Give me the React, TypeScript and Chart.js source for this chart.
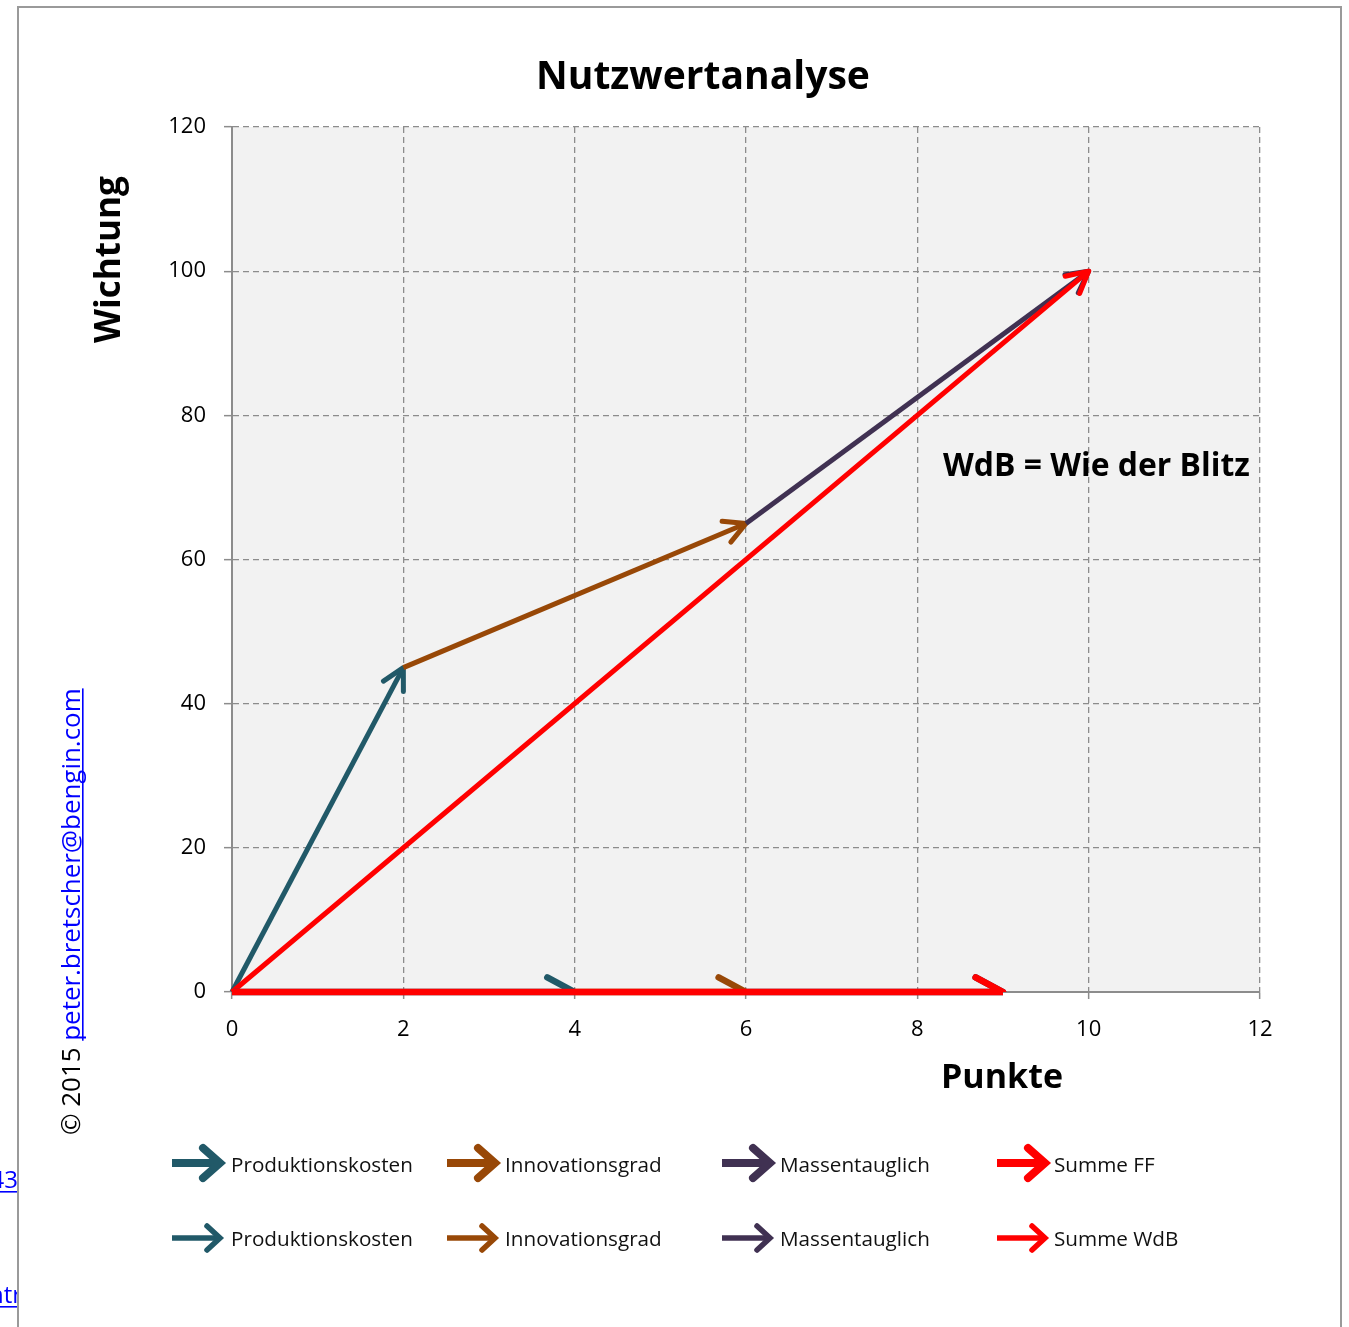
import React, { useEffect, useRef } from 'react';
import { Chart, registerables } from 'chart.js';

Chart.register(...registerables);

// ---------- data ----------
const TITLE = 'Nutzwertanalyse';
const X_TITLE = 'Punkte';
const Y_TITLE = 'Wichtung';
const NOTE = 'WdB = Wie der Blitz';
const COPYRIGHT_PREFIX = '© 2015 ';
const COPYRIGHT_LINK = 'peter.bretscher@bengin.com';

const X_MIN = 0;
const X_MAX = 12;
const X_STEP = 2;
const Y_MIN = 0;
const Y_MAX = 120;
const Y_STEP = 20;

const KRITERIEN = ['Produktionskosten', 'Innovationsgrad', 'Massentauglich'];
const SUMME_LABELS = ['Summe FF', 'Summe WdB'];

// cumulative points (Punkte) and weights (Wichtung) along each path
const FF_PUNKTE = [0, 2, 6, 10];
const FF_WICHTUNG = [0, 45, 65, 100];
const WDB_PUNKTE = [0, 4, 6, 9];
const WDB_WICHTUNG = [0, 0, 0, 0];

const COLORS = ['#215968', '#984807', '#403152', '#FF0000'];

// ---------- helpers ----------
const FONT = '"Open Sans", "DejaVu Sans", sans-serif';

function fitFont(ctx: CanvasRenderingContext2D, text: string, weight: string, width: number) {
  ctx.font = `${weight} 100px ${FONT}`;
  const w = ctx.measureText(text).width;
  const size = (100 * width) / w;
  ctx.font = `${weight} ${size}px ${FONT}`;
  return size;
}

function buildDatasets(px: number[], py: number[], sumLabel: string, lw: number, head: number, startIndex: number) {
  const out: any[] = [];
  for (let i = 0; i < KRITERIEN.length; i++) {
    out.push({
      label: KRITERIEN[i],
      data: [
        { x: px[i], y: py[i] },
        { x: px[i + 1], y: py[i + 1] },
      ],
      borderColor: COLORS[i],
      backgroundColor: COLORS[i],
      borderWidth: lw,
      headLen: head,
      showLine: true,
      pointRadius: 0,
      clip: 10,
      order: -(startIndex + i),
    });
  }
  const n = px.length - 1;
  out.push({
    label: sumLabel,
    data: [
      { x: px[0], y: py[0] },
      { x: px[n], y: py[n] },
    ],
    borderColor: COLORS[3],
    backgroundColor: COLORS[3],
    borderWidth: lw,
    headLen: head,
    showLine: true,
    pointRadius: 0,
    clip: 10,
    order: -(startIndex + 3),
  });
  return out;
}

const arrowPlugin = {
  id: 'arrowHeads',
  afterDatasetDraw(chart: any, args: any) {
    const ds = chart.data.datasets[args.index];
    const pts = args.meta.data;
    if (!pts || pts.length < 2) return;
    const a = pts[pts.length - 2];
    const b = pts[pts.length - 1];
    const ang = Math.atan2(b.y - a.y, b.x - a.x);
    const len = ds.headLen;
    const half = (28 * Math.PI) / 180;
    const ctx: CanvasRenderingContext2D = chart.ctx;
    const ca = chart.chartArea;
    ctx.save();
    ctx.beginPath();
    ctx.rect(ca.left - 10, ca.top - 30, ca.right - ca.left + 40, ca.bottom - ca.top + 30);
    ctx.clip();
    ctx.strokeStyle = ds.borderColor;
    ctx.lineWidth = ds.borderWidth;
    ctx.lineCap = 'round';
    ctx.lineJoin = 'round';
    ctx.beginPath();
    ctx.moveTo(b.x - len * Math.cos(ang - half), b.y - len * Math.sin(ang - half));
    ctx.lineTo(b.x, b.y);
    ctx.lineTo(b.x - len * Math.cos(ang + half), b.y - len * Math.sin(ang + half));
    ctx.stroke();
    ctx.restore();
  },
};

function legendArrow(ctx: CanvasRenderingContext2D, x0: number, y: number, color: string, lw: number, hl: number, hw: number) {
  const tip = x0 + 48;
  ctx.save();
  ctx.strokeStyle = color;
  ctx.lineWidth = lw;
  ctx.lineCap = 'butt';
  ctx.beginPath();
  ctx.moveTo(x0, y);
  ctx.lineTo(tip - lw * 0.4, y);
  ctx.stroke();
  ctx.lineCap = 'round';
  ctx.lineJoin = 'miter';
  ctx.beginPath();
  ctx.moveTo(tip - hl, y - hw);
  ctx.lineTo(tip, y);
  ctx.lineTo(tip - hl, y + hw);
  ctx.stroke();
  ctx.restore();
}

const decorPlugin = {
  id: 'decor',
  beforeDraw(chart: any) {
    const ctx: CanvasRenderingContext2D = chart.ctx;
    const ca = chart.chartArea;
    ctx.save();
    ctx.fillStyle = '#ffffff';
    ctx.fillRect(0, 0, chart.width, chart.height);
    ctx.fillStyle = '#f2f2f2';
    ctx.fillRect(ca.left, ca.top, ca.right - ca.left, ca.bottom - ca.top);
    ctx.restore();
  },
  afterDraw(chart: any) {
    const ctx: CanvasRenderingContext2D = chart.ctx;
    ctx.save();

    // frame
    ctx.strokeStyle = '#9a9a9a';
    ctx.lineWidth = 2;
    ctx.beginPath();
    ctx.moveTo(18, chart.height + 2);
    ctx.lineTo(18, 7);
    ctx.lineTo(1341, 7);
    ctx.lineTo(1341, chart.height + 2);
    ctx.stroke();

    // title
    ctx.fillStyle = '#000';
    ctx.textBaseline = 'alphabetic';
    ctx.textAlign = 'left';
    fitFont(ctx, TITLE, 'bold', 334);
    ctx.fillText(TITLE, 536, 89);

    // x title
    fitFont(ctx, X_TITLE, 'bold', 122);
    ctx.fillText(X_TITLE, 941, 1088);

    // note
    fitFont(ctx, NOTE, 'bold', 307);
    ctx.fillText(NOTE, 943, 476);

    // y title (rotated)
    ctx.save();
    ctx.translate(120, 343);
    ctx.rotate(-Math.PI / 2);
    fitFont(ctx, Y_TITLE, 'bold', 167);
    ctx.fillText(Y_TITLE, 0, 0);
    ctx.restore();

    // copyright (rotated)
    ctx.save();
    ctx.translate(80, 1135);
    ctx.rotate(-Math.PI / 2);
    const full = COPYRIGHT_PREFIX + COPYRIGHT_LINK;
    fitFont(ctx, full, 'normal', 447);
    const pw = ctx.measureText(COPYRIGHT_PREFIX).width;
    const lw = ctx.measureText(COPYRIGHT_LINK).width;
    ctx.fillStyle = '#000';
    ctx.fillText(COPYRIGHT_PREFIX, 0, 0);
    ctx.fillStyle = '#0000ff';
    ctx.fillText(COPYRIGHT_LINK, pw, 0);
    ctx.fillRect(pw, 2, lw, 1.6);
    ctx.restore();

    // cut-off page text at left
    ctx.save();
    ctx.beginPath();
    ctx.rect(0, 0, 17, chart.height);
    ctx.clip();
    ctx.font = `normal 24px ${FONT}`;
    ctx.fillStyle = '#0000ff';
    ctx.textAlign = 'right';
    ctx.fillText('43', 18, 1188);
    ctx.fillRect(0, 1191, 17, 1.6);
    ctx.fillText('ntr', 22, 1303);
    ctx.fillRect(0, 1306, 17, 1.6);
    ctx.restore();

    // legend
    const iconX = [172, 447, 722, 997];
    const textX = [231, 505, 780, 1054];
    const rowY = [1163, 1238];
    const rowBase = [1172, 1246];
    const rowStyle = [
      { lw: 8, hl: 17, hw: 15 },
      { lw: 5.5, hl: 13, hw: 12 },
    ];
    const rows = [
      [...KRITERIEN, SUMME_LABELS[0]],
      [...KRITERIEN, SUMME_LABELS[1]],
    ];
    const size = fitFont(ctx, KRITERIEN[0], 'normal', 182);
    for (let r = 0; r < 2; r++) {
      for (let i = 0; i < 4; i++) {
        legendArrow(ctx, iconX[i], rowY[r], COLORS[i], rowStyle[r].lw, rowStyle[r].hl, rowStyle[r].hw);
        ctx.font = `normal ${size}px ${FONT}`;
        ctx.fillStyle = '#111';
        ctx.textAlign = 'left';
        ctx.fillText(rows[r][i], textX[i], rowBase[r]);
      }
    }
    ctx.restore();
  },
};

export default function App() {
  const ref = useRef<HTMLCanvasElement | null>(null);

  useEffect(() => {
    if (!ref.current) return;
    const datasets = [
      ...buildDatasets(FF_PUNKTE, FF_WICHTUNG, SUMME_LABELS[0], 5, 24, 0),
      ...buildDatasets(WDB_PUNKTE, WDB_WICHTUNG, SUMME_LABELS[1], 6.5, 31, 4),
    ];
    const gridColor = '#8c8c8c';
    const tickFont = { family: FONT, size: 22 };
    const chart = new Chart(ref.current, {
      type: 'scatter',
      data: { datasets },
      plugins: [decorPlugin, arrowPlugin],
      options: {
        responsive: false,
        animation: false,
        events: [],
        layout: { padding: { left: 0, top: 127, right: 89, bottom: 285 } },
        plugins: {
          legend: { display: false },
          tooltip: { enabled: false },
          title: { display: false },
        },
        scales: {
          x: {
            type: 'linear',
            min: X_MIN,
            max: X_MAX,
            ticks: { stepSize: X_STEP, color: '#000', font: tickFont, padding: 18 },
            grid: { color: gridColor, lineWidth: 1.3, tickLength: 7, tickColor: gridColor, tickWidth: 1.5 },
            border: { display: true, color: gridColor, width: 2, dash: [6, 4] },
            afterFit: (s: any) => {
              s.height = 50;
            },
          },
          y: {
            type: 'linear',
            min: Y_MIN,
            max: Y_MAX,
            ticks: { stepSize: Y_STEP, color: '#000', font: tickFont, padding: 18 },
            grid: { color: gridColor, lineWidth: 1.3, tickLength: 8, tickColor: gridColor, tickWidth: 1.5 },
            border: { display: true, color: gridColor, width: 2, dash: [6, 4] },
            afterFit: (s: any) => {
              s.width = 232;
            },
          },
        },
      } as any,
    });
    return () => chart.destroy();
  }, []);

  return (
    <div style={{ position: 'absolute', left: 0, top: 0, width: 1349, height: 1327 }}>
      <canvas ref={ref} width={1349} height={1327} style={{ display: 'block' }} />
    </div>
  );
}
